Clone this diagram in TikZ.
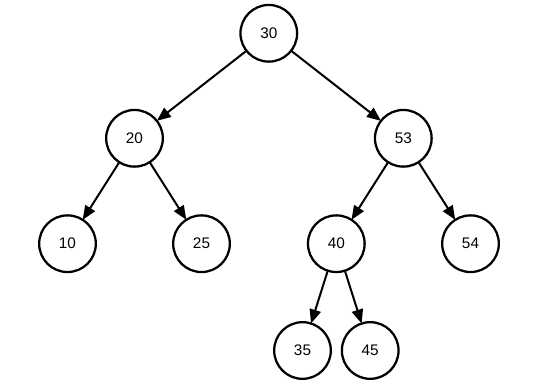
\documentclass[tikz,border=0pt]{standalone}
\usepackage{fontspec}
\setmainfont{Liberation Sans}
\usetikzlibrary{arrows.meta}
\begin{document}
\begin{tikzpicture}[x=0.75pt,y=-0.75pt,
  treenode/.style={circle,draw=black,line width=1.7pt,minimum size=42.5pt,inner sep=0pt,outer sep=0pt,font=\fontsize{11.5pt}{13pt}\selectfont},
  link/.style={line width=1.5pt,-{Triangle[length=10.5pt,width=8.5pt]}}]
\useasboundingbox (0,0) rectangle (538,385);
\node[treenode] (n30) at (268.8,33.3) {30};
\node[treenode] (n20) at (134.5,138.3) {20};
\node[treenode] (n53) at (403.3,138.3) {53};
\node[treenode] (n10) at (67.5,243.7) {10};
\node[treenode] (n25) at (201.5,243.7) {25};
\node[treenode] (n40) at (336.3,243.7) {40};
\node[treenode] (n54) at (470.5,243.7) {54};
\node[treenode] (n35) at (302.5,350.5) {35};
\node[treenode] (n45) at (370.2,350.5) {45};
\draw[link] (n30) -- (n20);
\draw[link] (n30) -- (n53);
\draw[link] (n20) -- (n10);
\draw[link] (n20) -- (n25);
\draw[link] (n53) -- (n40);
\draw[link] (n53) -- (n54);
\draw[link] (n40) -- (n35);
\draw[link] (n40) -- (n45);
\end{tikzpicture}
\end{document}
